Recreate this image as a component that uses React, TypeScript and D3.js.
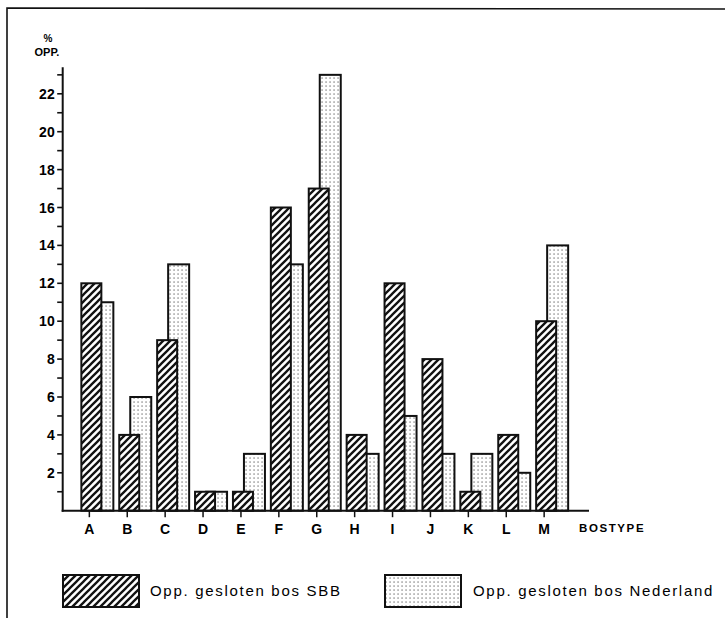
import * as d3 from "d3";
import React from "react";

const categories = ["A", "B", "C", "D", "E", "F", "G", "H", "I", "J", "K", "L", "M"];
const sbbValues = [12, 4, 9, 1, 1, 16, 17, 4, 12, 8, 1, 4, 10];
const nederlandValues = [11, 6, 13, 1, 3, 13, 23, 3, 5, 3, 3, 2, 14];
const majorTicks = [2, 4, 6, 8, 10, 12, 14, 16, 18, 20, 22];
const minorTicks = [1, 3, 5, 7, 9, 11, 13, 15, 17, 19, 21, 23];
const legendLabels = ["Opp. gesloten bos SBB", "Opp. gesloten bos Nederland"];

const W = 725;
const H = 623;
const axisX = 62.7;
const baseY = 510.7;

const App: React.FC = () => {
  const x = d3.scaleBand<string>().domain(categories).range([70.4, 563.1]).padding(0);
  const y = d3.scaleLinear().domain([0, 23.4]).range([baseY, baseY - 23.4 * 18.95]);
  const center = (c: string) => (x(c) ?? 0) + x.bandwidth() / 2;

  const font = "'Liberation Sans', Arial, Helvetica, sans-serif";

  return (
    <svg width={W} height={H} style={{ position: "absolute", left: 0, top: 0, background: "#fff" }}>
      <defs>
        <pattern id="hatch" patternUnits="userSpaceOnUse" width="7" height="7">
          <rect width="7" height="7" fill="#fff" />
          <path d="M-1,1 l2,-2 M0,7 l7,-7 M6,8 l2,-2" stroke="#111" strokeWidth="2.3" />
        </pattern>
        <pattern id="dots" patternUnits="userSpaceOnUse" width="4" height="4">
          <rect width="4" height="4" fill="#fff" />
          <rect x="1.5" y="1.5" width="1.1" height="1.1" fill="#444" />
        </pattern>
      </defs>

      {/* frame */}
      <path d="M7,618 L7,8 L725,9" fill="none" stroke="#111" strokeWidth="1.6" />

      {/* y label */}
      <text x={48} y={42} textAnchor="middle" fontFamily={font} fontWeight="bold" fontSize="10">%</text>
      <text x={47} y={56} textAnchor="middle" fontFamily={font} fontWeight="bold" fontSize="11">OPP.</text>

      {/* bars: Nederland behind, SBB in front */}
      {categories.map((c, i) => (
        <rect
          key={"n" + c}
          x={center(c) + 3}
          y={y(nederlandValues[i])}
          width={21}
          height={baseY - y(nederlandValues[i])}
          fill="url(#dots)"
          stroke="#111"
          strokeWidth="2"
        />
      ))}
      {categories.map((c, i) => (
        <rect
          key={"s" + c}
          x={center(c) - 8}
          y={y(sbbValues[i])}
          width={20}
          height={baseY - y(sbbValues[i])}
          fill="url(#hatch)"
          stroke="#111"
          strokeWidth="2"
        />
      ))}

      {/* y axis */}
      <line x1={axisX} x2={axisX} y1={y(23.4)} y2={baseY + 1} stroke="#111" strokeWidth="2" />
      {minorTicks.concat(majorTicks).map((t) => (
        <line key={"t" + t} x1={axisX - 5.5} x2={axisX} y1={y(t)} y2={y(t)} stroke="#111" strokeWidth="1.6" />
      ))}
      {majorTicks.map((t) => (
        <text key={"l" + t} x={axisX - 8} y={y(t) + 5} textAnchor="end" fontFamily={font} fontWeight="bold" fontSize="14">
          {t}
        </text>
      ))}

      {/* x axis */}
      <line x1={axisX - 1} x2={589} y1={baseY} y2={baseY} stroke="#111" strokeWidth="2" />
      {categories.map((c) => (
        <g key={"x" + c}>
          <line x1={center(c)} x2={center(c)} y1={baseY} y2={baseY + 6.5} stroke="#111" strokeWidth="1.5" />
          <text x={center(c)} y={534} textAnchor="middle" fontFamily={font} fontWeight="bold" fontSize="14">
            {c}
          </text>
        </g>
      ))}
      <text x={579} y={532} fontFamily={font} fontWeight="bold" fontSize="11.5" letterSpacing="1.6">BOSTYPE</text>

      {/* legend */}
      <rect x={63} y={575} width={76} height={32} fill="url(#hatch)" stroke="#111" strokeWidth="2" />
      <text x={150} y={596} fontFamily={font} fontSize="15" letterSpacing="1.7">{legendLabels[0]}</text>
      <rect x={385} y={575} width={76} height={32} fill="url(#dots)" stroke="#111" strokeWidth="2" />
      <text x={473} y={596} fontFamily={font} fontSize="15" letterSpacing="1.7">{legendLabels[1]}</text>
    </svg>
  );
};

export default App;
